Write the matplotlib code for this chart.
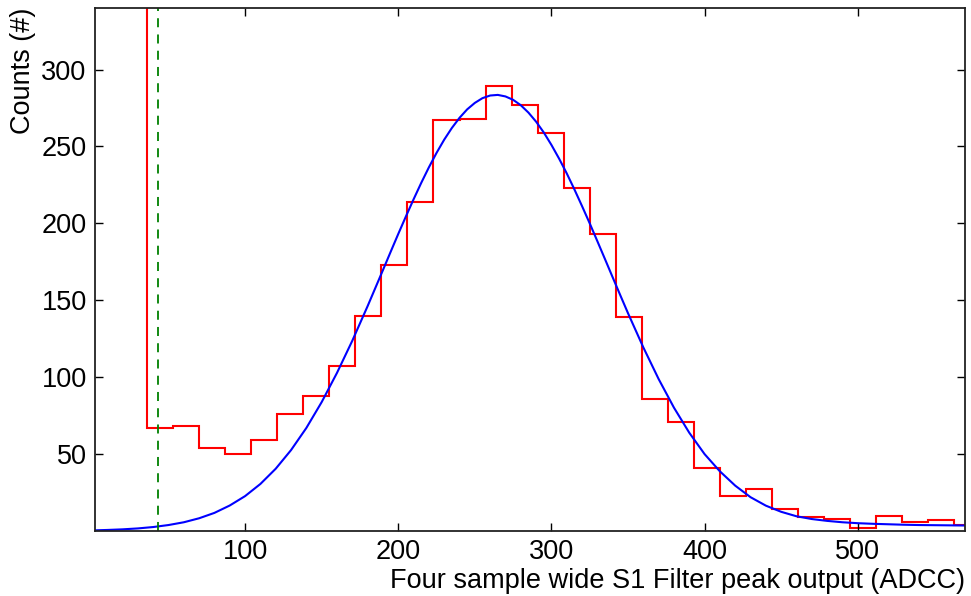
import numpy as np
import matplotlib
matplotlib.use('Agg')
import matplotlib.pyplot as plt

# histogram of the filter peak output, 17 ADCC wide bins
bin_edges = [2, 19, 36, 53, 70, 87, 104, 121, 138, 155, 172, 189, 206, 223, 240,
             257, 274, 291, 308, 325, 342, 359, 376, 393, 410, 427, 444, 461,
             478, 495, 512, 529, 546, 563, 580]
counts = [1500, 900, 67, 68, 54, 50, 59, 76, 88, 107, 140, 173, 214, 267, 268,
          289, 277, 259, 223, 193, 139, 86, 71, 41, 23, 27, 14, 9,
          8, 2, 10, 6, 7, 4]

# fitted curve
fit_x = [0, 10, 20, 30, 40, 50, 60, 70, 80, 90, 100, 110, 120, 130, 140, 150,
         160, 170, 180, 185, 190, 195, 200, 205, 210, 215, 220, 225, 230, 235,
         240, 245, 250, 255, 260, 265, 270, 275, 280, 285, 290, 295, 300, 305,
         310, 315, 320, 325, 330, 335, 340, 345, 350, 360, 370, 380, 390, 400,
         410, 420, 430, 440, 450, 460, 470, 480, 490, 500, 510, 520, 530, 540,
         550, 560, 570]
fit_y = [0.4, 0.7, 1.1, 1.7, 2.6, 3.9, 5.7, 8.3, 11.8, 16.6, 22.7, 30.6, 40.5,
         52.6, 67.0, 83.8, 102.8, 123.7, 146.2, 157.9, 169.6, 181.4, 193.1,
         204.5, 215.6, 226.3, 236.4, 245.8, 254.4, 262.0, 268.6, 274.1, 278.3,
         281.4, 283.1, 283.5, 282.5, 280.3, 276.8, 272.0, 266.1, 259.1, 251.0,
         242.1, 232.5, 222.1, 211.2, 200.0, 188.4, 176.7, 164.9, 153.2, 141.6,
         119.4, 98.8, 80.2, 63.9, 50.0, 38.8, 29.5, 22.0, 16.5, 12.5, 9.6, 7.8,
         6.6, 5.7, 5.1, 4.7, 4.4, 4.1, 3.9, 3.8, 3.7, 3.6]

threshold = 43

plt.rcParams['font.family'] = ['Liberation Sans', 'DejaVu Sans']
plt.rcParams['font.size'] = 19.5

fig = plt.figure(figsize=(9.71, 5.96), dpi=100)
ax = fig.add_axes([0.0978, 0.109, 0.8960, 0.8776])

ax.stairs(counts, bin_edges, color='r', lw=1.5, baseline=None)
ax.plot(fit_x, fit_y, color='b', lw=1.5)
ax.axvline(threshold, color='g', lw=1.3, ls=(0, (5, 4)))

ax.set_xlim(2, 570)
ax.set_ylim(0, 340)
ax.set_xticks([100, 200, 300, 400, 500])
ax.set_yticks([50, 100, 150, 200, 250, 300])
ax.tick_params(direction='in', top=True, right=True, length=5.5, width=1, pad=6)
for s in ax.spines.values():
    s.set_linewidth(1.3)
    s.set_color('#222222')

ax.set_xlabel('Four sample wide S1 Filter peak output (ADCC)', loc='right', labelpad=2)
ax.set_ylabel('Counts (#)', loc='top', labelpad=4)

fig.savefig('out.png', dpi=100)
